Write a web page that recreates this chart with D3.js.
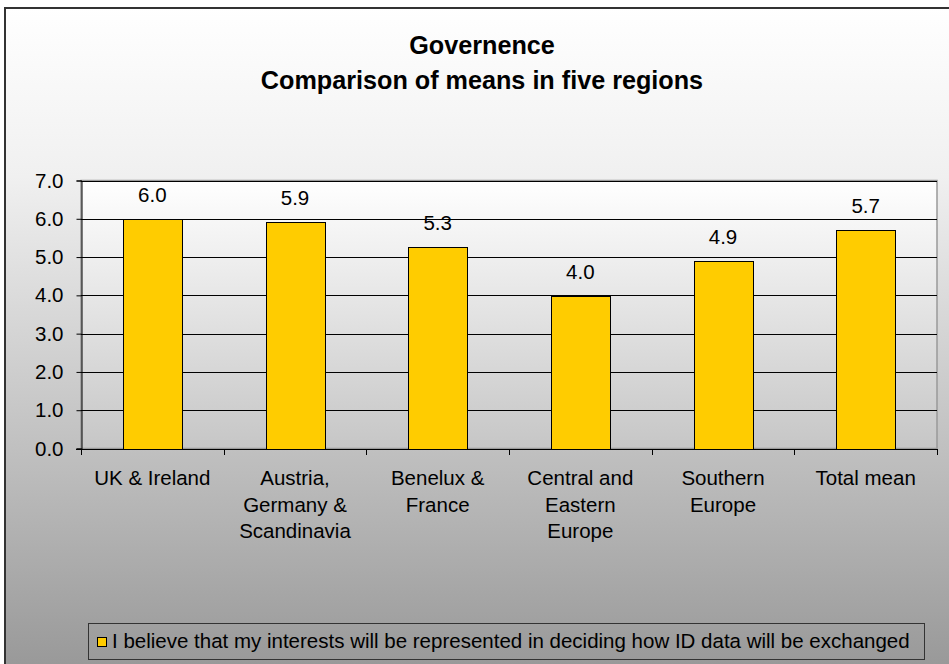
<!DOCTYPE html>
<html>
<head>
<meta charset="utf-8">
<script src="https://cdn.jsdelivr.net/npm/d3@7"></script>
<style>
  html, body { margin: 0; padding: 0; background: #ffffff; }
  svg { display: block; }
  text { font-family: "Liberation Sans", Arial, sans-serif; fill: #000; }
</style>
</head>
<body>
<svg id="chart" width="949" height="664"></svg>
<script>
const titleLines = ["Governence", "Comparison of means in five regions"];
const categories = ["UK & Ireland", "Austria, Germany & Scandinavia", "Benelux & France", "Central and Eastern Europe", "Southern Europe", "Total mean"];
const categoryLines = [["UK & Ireland"], ["Austria,", "Germany &", "Scandinavia"], ["Benelux &", "France"], ["Central and", "Eastern", "Europe"], ["Southern", "Europe"], ["Total mean"]];
const values = [6.0, 5.92, 5.26, 3.98, 4.89, 5.72];
const yTicks = [0, 1, 2, 3, 4, 5, 6, 7];
const seriesName = "I believe that my interests will be represented in deciding how ID data will be exchanged";

const svg = d3.select("#chart");
const W = 949, H = 664;
const plot = { left: 81, right: 937, top: 180.5, bottom: 448.5 };
const FS = 20.5;

const defs = svg.append("defs");
const bgGrad = defs.append("linearGradient").attr("id", "bgGrad").attr("x1", 0).attr("y1", 0).attr("x2", 0).attr("y2", 1);
bgGrad.append("stop").attr("offset", "0%").attr("stop-color", "#ffffff");
bgGrad.append("stop").attr("offset", "25%").attr("stop-color", "#f0f0f0");
bgGrad.append("stop").attr("offset", "68%").attr("stop-color", "#bdbdbd");
bgGrad.append("stop").attr("offset", "100%").attr("stop-color", "#969696");
const plotGrad = defs.append("linearGradient").attr("id", "plotGrad").attr("x1", 0).attr("y1", 0).attr("x2", 0).attr("y2", 1);
plotGrad.append("stop").attr("offset", "0%").attr("stop-color", "#ffffff");
plotGrad.append("stop").attr("offset", "100%").attr("stop-color", "#c6c6c6");

// chart background and border
svg.append("rect").attr("x", 5).attr("y", 8).attr("width", W + 10).attr("height", H + 10)
  .attr("fill", "url(#bgGrad)").attr("stroke", "#333").attr("stroke-width", 2);

// title
svg.append("g").selectAll("text").data(titleLines).join("text")
  .attr("x", 482).attr("y", (d, i) => 54 + i * 35)
  .attr("text-anchor", "middle").attr("font-size", 25.2).attr("font-weight", "bold")
  .text(d => d);

// scales
const x = d3.scaleBand().domain(categories).range([plot.left, plot.right])
  .paddingInner(0.5865).paddingOuter(0.5865 / 2);
const y = d3.scaleLinear().domain([0, 7]).range([plot.bottom, plot.top]);
const step = x.step();

// plot area
svg.append("rect").attr("x", plot.left).attr("y", plot.top)
  .attr("width", plot.right - plot.left).attr("height", plot.bottom - plot.top)
  .attr("fill", "url(#plotGrad)").attr("stroke", "#999").attr("stroke-width", 1.5);

// gridlines
svg.append("g").selectAll("line").data(yTicks.filter(d => d > 0)).join("line")
  .attr("x1", plot.left).attr("x2", plot.right)
  .attr("y1", d => Math.round(y(d)) + 0.5).attr("y2", d => Math.round(y(d)) + 0.5)
  .attr("stroke", "#000").attr("stroke-width", 1);

// bars
svg.append("g").selectAll("rect").data(values).join("rect")
  .attr("x", (d, i) => Math.round(x(categories[i])) + 0.5)
  .attr("y", d => Math.round(y(d)) + 0.5)
  .attr("width", Math.round(x.bandwidth()))
  .attr("height", d => Math.round(y(0)) - Math.round(y(d)))
  .attr("fill", "#ffcc00").attr("stroke", "#000").attr("stroke-width", 1);

// value labels
svg.append("g").selectAll("text").data(values).join("text")
  .attr("x", (d, i) => x(categories[i]) + x.bandwidth() / 2)
  .attr("y", d => y(d) - 17)
  .attr("text-anchor", "middle").attr("font-size", FS)
  .text(d => d.toFixed(1));

// y axis
const yAxis = d3.axisLeft(y).tickValues(yTicks).tickFormat(d3.format(".1f")).tickSize(5).tickPadding(13);
const gy = svg.append("g").attr("transform", `translate(${plot.left + 0.5},0)`).call(yAxis);
gy.select(".domain").attr("stroke", "#000");
gy.selectAll(".tick line").attr("stroke", "#000");
gy.selectAll(".tick text").attr("font-size", FS).attr("font-family", "Liberation Sans, Arial, sans-serif").attr("fill", "#000");

// x axis line
svg.append("line").attr("x1", plot.left - 5).attr("x2", plot.right)
  .attr("y1", Math.round(y(0)) + 0.5).attr("y2", Math.round(y(0)) + 0.5)
  .attr("stroke", "#000").attr("stroke-width", 1);

// x ticks at category boundaries
const boundaries = categories.map(c => x(c) - x.paddingInner() * step / 2).concat([plot.right]);
svg.append("g").selectAll("line").data(boundaries).join("line")
  .attr("x1", d => Math.round(d) + 0.5).attr("x2", d => Math.round(d) + 0.5)
  .attr("y1", Math.round(y(0))).attr("y2", Math.round(y(0)) + 6)
  .attr("stroke", "#000");

// category labels
const catG = svg.append("g").selectAll("text").data(categories).join("text")
  .attr("x", d => x(d) + x.bandwidth() / 2)
  .attr("y", 485)
  .attr("text-anchor", "middle").attr("font-size", FS);
catG.each(function(d, i) {
  d3.select(this).selectAll("tspan").data(categoryLines[i]).join("tspan")
    .attr("x", x(d) + x.bandwidth() / 2)
    .attr("dy", (t, j) => j === 0 ? 0 : 26.5)
    .text(t => t);
});

// legend
const lg = svg.append("g");
lg.append("rect").attr("x", 88.5).attr("y", 623.5).attr("width", 836).attr("height", 36)
  .attr("fill", "none").attr("stroke", "#333").attr("stroke-width", 1);
lg.append("rect").attr("x", 97.5).attr("y", 637.5).attr("width", 9).attr("height", 9)
  .attr("fill", "#ffcc00").attr("stroke", "#000").attr("stroke-width", 1);
lg.append("text").attr("x", 112).attr("y", 648).attr("font-size", FS).text(seriesName);
</script>
</body>
</html>
